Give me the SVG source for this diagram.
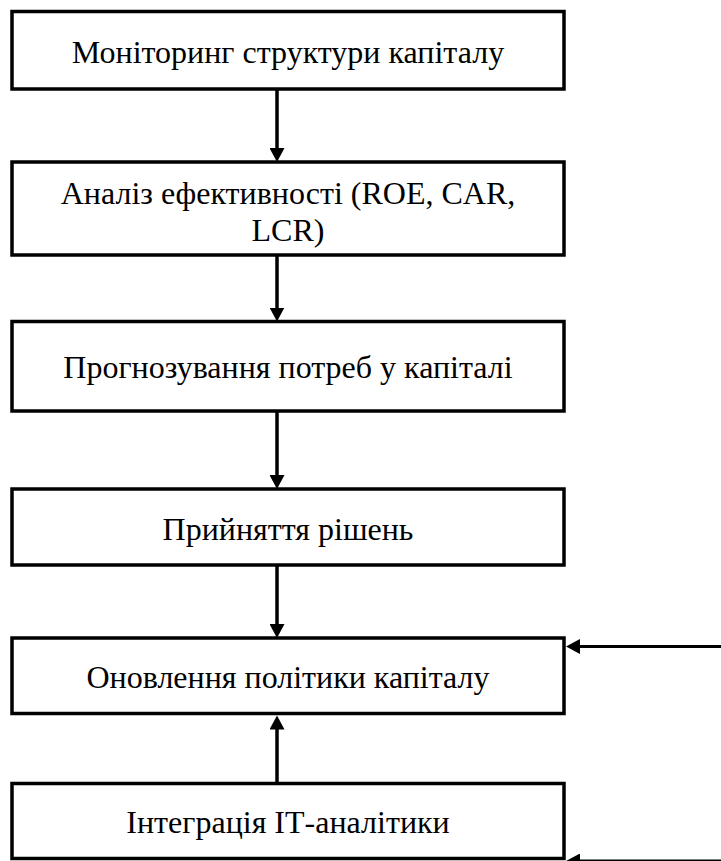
<svg xmlns="http://www.w3.org/2000/svg" width="721" height="861" viewBox="0 0 721 861">
  <style>
    .box { fill: #ffffff; stroke: #000000; stroke-width: 3.5; }
    .lbl { font-family: "Liberation Serif", "Times New Roman", serif; font-size: 32px; fill: #000000; text-anchor: middle; }
    .conn { stroke: #000000; stroke-width: 3.5; fill: none; marker-end: url(#ah); }
    .conn2 { stroke: #000000; stroke-width: 3; fill: none; marker-end: url(#ah); }
  </style>
  <defs>
    <marker id="ah" markerUnits="userSpaceOnUse" markerWidth="15" markerHeight="15" refX="10" refY="7.5" orient="auto">
      <path d="M0,0 L14,7.5 L0,15 Z" fill="#000000"/>
    </marker>
  </defs>
  <rect width="721" height="861" fill="#ffffff"/>
  <g id="connectors">
    <line class="conn" x1="277" y1="89" x2="277" y2="158"/>
    <line class="conn" x1="277" y1="255" x2="277" y2="317.5"/>
    <line class="conn" x1="277" y1="411" x2="277" y2="485"/>
    <line class="conn" x1="277" y1="565" x2="277" y2="634"/>
    <line class="conn" x1="277" y1="783.5" x2="277" y2="719.5"/>
    <line class="conn2" x1="721" y1="646.5" x2="570" y2="646.5"/>
    <line class="conn2" x1="721" y1="861" x2="570" y2="861"/>
  </g>
  <g id="node1">
    <rect class="box" x="12" y="11.5" width="552" height="77.5"/>
    <text class="lbl" x="288" y="63">Моніторинг структури капіталу</text>
  </g>
  <g id="node2">
    <rect class="box" x="12" y="162" width="552" height="93"/>
    <text class="lbl" x="288" y="204">Аналіз ефективності (ROE, CAR,</text>
    <text class="lbl" x="288" y="240.7">LCR)</text>
  </g>
  <g id="node3">
    <rect class="box" x="12" y="321.5" width="552" height="89.5"/>
    <text class="lbl" x="288" y="378.3">Прогнозування потреб у капіталі</text>
  </g>
  <g id="node4">
    <rect class="box" x="12" y="489" width="552" height="76"/>
    <text class="lbl" x="288" y="540">Прийняття рішень</text>
  </g>
  <g id="node5">
    <rect class="box" x="12" y="638" width="552" height="75.5"/>
    <text class="lbl" x="288" y="688.3">Оновлення політики капіталу</text>
  </g>
  <g id="node6">
    <rect class="box" x="12" y="783.5" width="552" height="75"/>
    <text class="lbl" x="288" y="833">Інтеграція ІТ-аналітики</text>
  </g>
</svg>
